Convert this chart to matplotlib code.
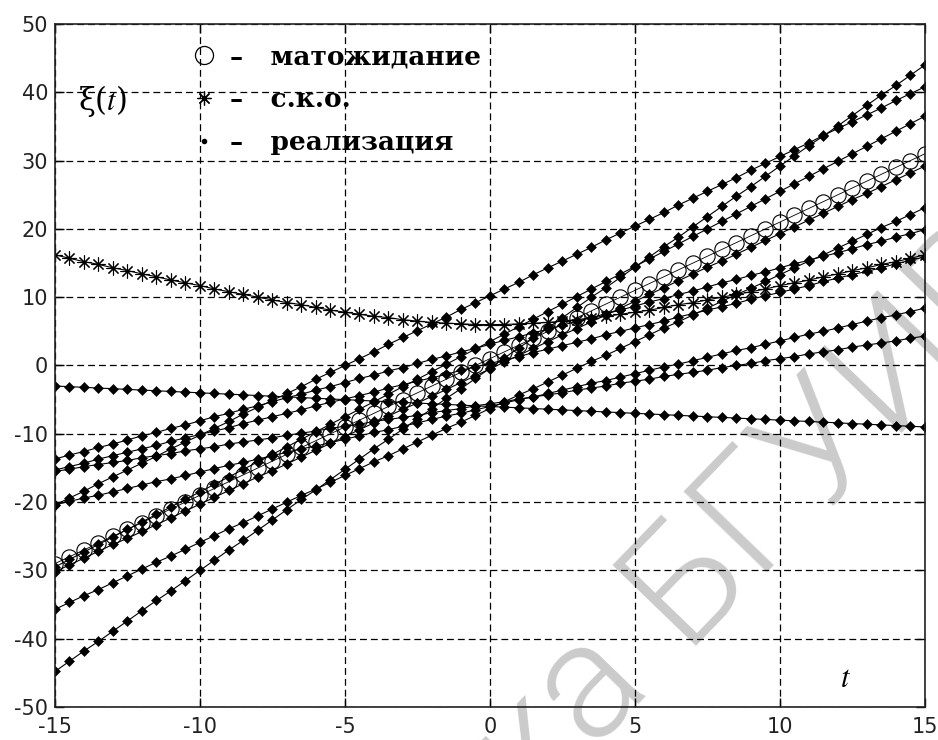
import numpy as np
import matplotlib.pyplot as plt
from matplotlib.lines import Line2D

# time grid with step 0.5
t = np.arange(-15, 15.5, 0.5)

# expectation m(t)
mean_vals = [-29, -28, -27, -26, -25, -24, -23, -22, -21, -20,
             -19, -18, -17, -16, -15, -14, -13, -12, -11, -10,
             -9, -8, -7, -6, -5, -4, -3, -2, -1, 0,
             1, 2, 3, 4, 5, 6, 7, 8, 9, 10,
             11, 12, 13, 14, 15, 16, 17, 18, 19, 20,
             21, 22, 23, 24, 25, 26, 27, 28, 29, 30,
             31]

# standard deviation (с.к.о.)
sko_vals = [16.2, 15.7, 15.2, 14.8, 14.3, 13.9, 13.4, 13.0, 12.5, 12.1,
            11.7, 11.2, 10.8, 10.4, 10.0, 9.6, 9.2, 8.9, 8.5, 8.1,
            7.8, 7.5, 7.2, 7.0, 6.7, 6.5, 6.3, 6.2, 6.1, 6.0,
            6.0, 6.0, 6.1, 6.2, 6.3, 6.5, 6.7, 7.0, 7.2, 7.5,
            7.8, 8.1, 8.5, 8.9, 9.2, 9.6, 10.0, 10.4, 10.8, 11.2,
            11.7, 12.1, 12.5, 13.0, 13.4, 13.9, 14.3, 14.8, 15.2, 15.7,
            16.2]

# realizations of the process
xi_1 = [-44.8, -43.3, -41.8, -40.4, -38.9, -37.4, -35.9, -34.4, -33.0, -31.5,
        -30.0, -28.5, -27.0, -25.6, -24.1, -22.6, -21.1, -19.6, -18.2, -16.7,
        -15.2, -13.7, -12.2, -10.8, -9.3, -7.8, -6.3, -4.8, -3.4, -1.9,
        -0.4, 1.1, 2.6, 4.0, 5.5, 7.0, 8.5, 10.0, 11.4, 12.9,
        14.4, 15.9, 17.4, 18.8, 20.3, 21.8, 23.3, 24.8, 26.2, 27.7,
        29.2, 30.7, 32.2, 33.6, 35.1, 36.6, 38.1, 39.6, 41.0, 42.5,
        44.0]
xi_2 = [-35.7, -34.7, -33.7, -32.8, -31.8, -30.8, -29.8, -28.8, -27.9, -26.9,
        -25.9, -24.9, -23.9, -23.0, -22.0, -21.0, -20.0, -19.0, -18.1, -17.1,
        -16.1, -15.1, -14.1, -13.2, -12.2, -11.2, -10.2, -9.2, -8.3, -7.3,
        -6.3, -5.3, -4.3, -3.4, -2.4, -1.4, -0.4, 0.6, 1.5, 2.5,
        3.5, 4.5, 5.5, 6.4, 7.4, 8.4, 9.4, 10.4, 11.3, 12.3,
        13.3, 14.3, 15.3, 16.2, 17.2, 18.2, 19.2, 20.2, 21.1, 22.1,
        23.1]
xi_3 = [-30.2, -29.2, -28.2, -27.2, -26.2, -25.3, -24.3, -23.3, -22.3, -21.3,
        -20.3, -19.3, -18.3, -17.3, -16.3, -15.4, -14.4, -13.4, -12.4, -11.4,
        -10.4, -9.4, -8.4, -7.4, -6.4, -5.5, -4.5, -3.5, -2.5, -1.5,
        -0.5, 0.5, 1.5, 2.5, 3.5, 4.5, 5.4, 6.4, 7.4, 8.4,
        9.4, 10.4, 11.4, 12.4, 13.4, 14.4, 15.3, 16.3, 17.3, 18.3,
        19.3, 20.3, 21.3, 22.3, 23.3, 24.3, 25.2, 26.2, 27.2, 28.2,
        29.2]
xi_4 = [-29.5, -28.4, -27.3, -26.2, -25.1, -24.0, -22.9, -21.8, -20.7, -19.6,
        -18.5, -17.4, -16.3, -15.2, -14.1, -13.0, -11.9, -10.8, -9.7, -8.6,
        -7.5, -6.4, -5.3, -4.2, -3.1, -2.0, -0.9, 0.2, 1.3, 2.4,
        3.5, 4.6, 5.7, 6.8, 7.9, 9.0, 10.1, 11.2, 12.3, 13.4,
        14.5, 15.6, 16.7, 17.8, 18.9, 20.0, 21.1, 22.2, 23.3, 24.4,
        25.5, 26.6, 27.7, 28.8, 29.9, 31.0, 32.1, 33.2, 34.3, 35.4,
        36.5]
xi_5 = [-20.4, -19.4, -18.4, -17.3, -16.3, -15.3, -14.3, -13.3, -12.2, -11.2,
        -10.2, -9.2, -8.2, -7.1, -6.1, -5.1, -4.1, -3.1, -2.0, -1.0,
        0.0, 1.0, 2.0, 3.1, 4.1, 5.1, 6.1, 7.1, 8.2, 9.2,
        10.2, 11.2, 12.2, 13.3, 14.3, 15.3, 16.3, 17.3, 18.4, 19.4,
        20.4, 21.4, 22.4, 23.5, 24.5, 25.5, 26.5, 27.5, 28.6, 29.6,
        30.6, 31.6, 32.6, 33.7, 34.7, 35.7, 36.7, 37.7, 38.8, 39.8,
        40.8]
xi_6 = [-20.4, -19.9, -19.4, -19.0, -18.5, -18.0, -17.5, -17.0, -16.6, -16.1,
        -15.6, -15.1, -14.6, -14.2, -13.7, -13.2, -12.7, -12.2, -11.8, -11.3,
        -10.8, -10.3, -9.8, -9.4, -8.9, -8.4, -7.9, -7.4, -7.0, -6.5,
        -6.0, -5.5, -5.0, -4.6, -4.1, -3.6, -3.1, -2.6, -2.2, -1.7,
        -1.2, -0.7, -0.2, 0.2, 0.7, 1.2, 1.7, 2.2, 2.6, 3.1,
        3.6, 4.1, 4.6, 5.0, 5.5, 6.0, 6.5, 7.0, 7.4, 7.9,
        8.4]
xi_7 = [-13.7, -13.1, -12.6, -12.0, -11.5, -10.9, -10.3, -9.8, -9.2, -8.7,
        -8.1, -7.5, -7.0, -6.4, -5.9, -5.3, -4.7, -4.2, -3.6, -3.1,
        -2.5, -1.9, -1.4, -0.8, -0.3, 0.3, 0.9, 1.4, 2.0, 2.5,
        3.1, 3.7, 4.2, 4.8, 5.3, 5.9, 6.5, 7.0, 7.6, 8.1,
        8.7, 9.3, 9.8, 10.4, 10.9, 11.5, 12.1, 12.6, 13.2, 13.7,
        14.3, 14.9, 15.4, 16.0, 16.5, 17.1, 17.7, 18.2, 18.8, 19.3,
        19.9]
xi_8 = [-15.5, -15.2, -14.8, -14.5, -14.2, -13.9, -13.5, -13.2, -12.9, -12.5,
        -12.2, -11.9, -11.5, -11.2, -10.9, -10.6, -10.2, -9.9, -9.6, -9.2,
        -8.9, -8.6, -8.2, -7.9, -7.6, -7.3, -6.9, -6.6, -6.3, -5.9,
        -5.6, -5.3, -4.9, -4.6, -4.3, -4.0, -3.6, -3.3, -3.0, -2.6,
        -2.3, -2.0, -1.6, -1.3, -1.0, -0.7, -0.3, 0.0, 0.3, 0.7,
        1.0, 1.3, 1.7, 2.0, 2.3, 2.7, 3.0, 3.3, 3.6, 4.0,
        4.3]
xi_9 = [-15.3, -14.8, -14.3, -13.7, -13.2, -12.7, -12.2, -11.7, -11.1, -10.6,
        -10.1, -9.6, -9.1, -8.5, -8.0, -7.5, -7.0, -6.5, -5.9, -5.4,
        -4.9, -4.4, -3.9, -3.3, -2.8, -2.3, -1.8, -1.3, -0.7, -0.2,
        0.3, 0.8, 1.3, 1.9, 2.4, 2.9, 3.4, 3.9, 4.5, 5.0,
        5.5, 6.0, 6.5, 7.1, 7.6, 8.1, 8.6, 9.1, 9.7, 10.2,
        10.7, 11.2, 11.7, 12.3, 12.8, 13.3, 13.8, 14.3, 14.9, 15.4,
        15.9]
xi_10 = [-3.0, -3.1, -3.2, -3.3, -3.4, -3.5, -3.6, -3.7, -3.8, -3.9,
         -4.0, -4.1, -4.2, -4.3, -4.4, -4.5, -4.6, -4.7, -4.8, -4.9,
         -5.0, -5.1, -5.2, -5.3, -5.4, -5.5, -5.6, -5.7, -5.8, -5.9,
         -6.0, -6.1, -6.2, -6.3, -6.4, -6.5, -6.6, -6.7, -6.8, -6.9,
         -7.0, -7.1, -7.2, -7.3, -7.4, -7.5, -7.6, -7.7, -7.8, -7.9,
         -8.0, -8.1, -8.2, -8.3, -8.4, -8.5, -8.6, -8.7, -8.8, -8.9,
         -9.0]

x_ticks = [-15, -10, -5, 0, 5, 10, 15]
y_ticks = [-50, -40, -30, -20, -10, 0, 10, 20, 30, 40, 50]
legend_labels = ['–   матожидание', '–   с.к.о.', '–   реализация']

plt.rcParams['font.family'] = 'DejaVu Sans'
plt.rcParams['mathtext.fontset'] = 'stix'
plt.rcParams['axes.unicode_minus'] = False

fig = plt.figure(figsize=(9.38, 7.4), dpi=100)
fig.patch.set_facecolor('white')
ax = fig.add_axes([0.0586, 0.0446, 0.9275, 0.923])
ax.set_facecolor('none')

# library stamp behind the plot
stamp = dict(fontsize=118, color='#cbcbcb', family='Roboto', fontweight=300,
             rotation=46, rotation_mode='anchor', va='baseline', zorder=-1)
fig.text(0.728, 0.128, 'БГУИР', ha='left', **stamp)
fig.text(0.693, 0.084, 'Библиотека', ha='right', **stamp)

for xi in [xi_1, xi_2, xi_3, xi_4, xi_5, xi_6, xi_7, xi_8, xi_9, xi_10]:
    ax.plot(t, xi, color='black', lw=0.8, marker='D', ms=4.8, mew=0.4)
ax.plot(t, mean_vals, color='black', lw=0.6, marker='o', ms=11,
        mfc='none', mew=0.8)
ax.plot(t, sko_vals, color='black', lw=0.8, marker=(8, 2, 0), ms=10, mew=0.8)

ax.set_xlim(-15, 15)
ax.set_ylim(-50, 50)
ax.set_xticks(x_ticks)
ax.set_yticks(y_ticks)
ax.set_axisbelow(True)
ax.grid(True, color='black', lw=0.9, linestyle=(0, (5.5, 3.2)))
ax.tick_params(direction='in', length=6.5, width=1, top=True, right=True,
               labelsize=15, labelcolor='#222222')
ax.tick_params(axis='x', pad=7)
ax.tick_params(axis='y', pad=5)
for s in ax.spines.values():
    s.set_linewidth(1.2)
    s.set_color('#222222')

handles = [
    Line2D([], [], ls='none', marker='o', ms=13, mfc='none', mec='black', mew=0.9),
    Line2D([], [], ls='none', marker=(8, 2, 0), ms=10, color='black', mew=0.9),
    Line2D([], [], ls='none', marker='.', ms=6, color='black'),
]
ax.legend(handles, legend_labels, loc='upper left', bbox_to_anchor=(0.141, 0.99),
          frameon=False, borderpad=0, handlelength=1.0, handletextpad=0.5,
          labelspacing=0.68,
          prop={'family': 'DejaVu Serif', 'weight': 'bold', 'size': 19})

ax.text(0.026, 0.874, 'ξ($t$)', transform=ax.transAxes, fontsize=22,
        family='DejaVu Serif', va='baseline')
ax.text(0.902, 0.0293, '$t$', transform=ax.transAxes, fontsize=22,
        va='baseline')

fig.savefig('out.png', dpi=100)
